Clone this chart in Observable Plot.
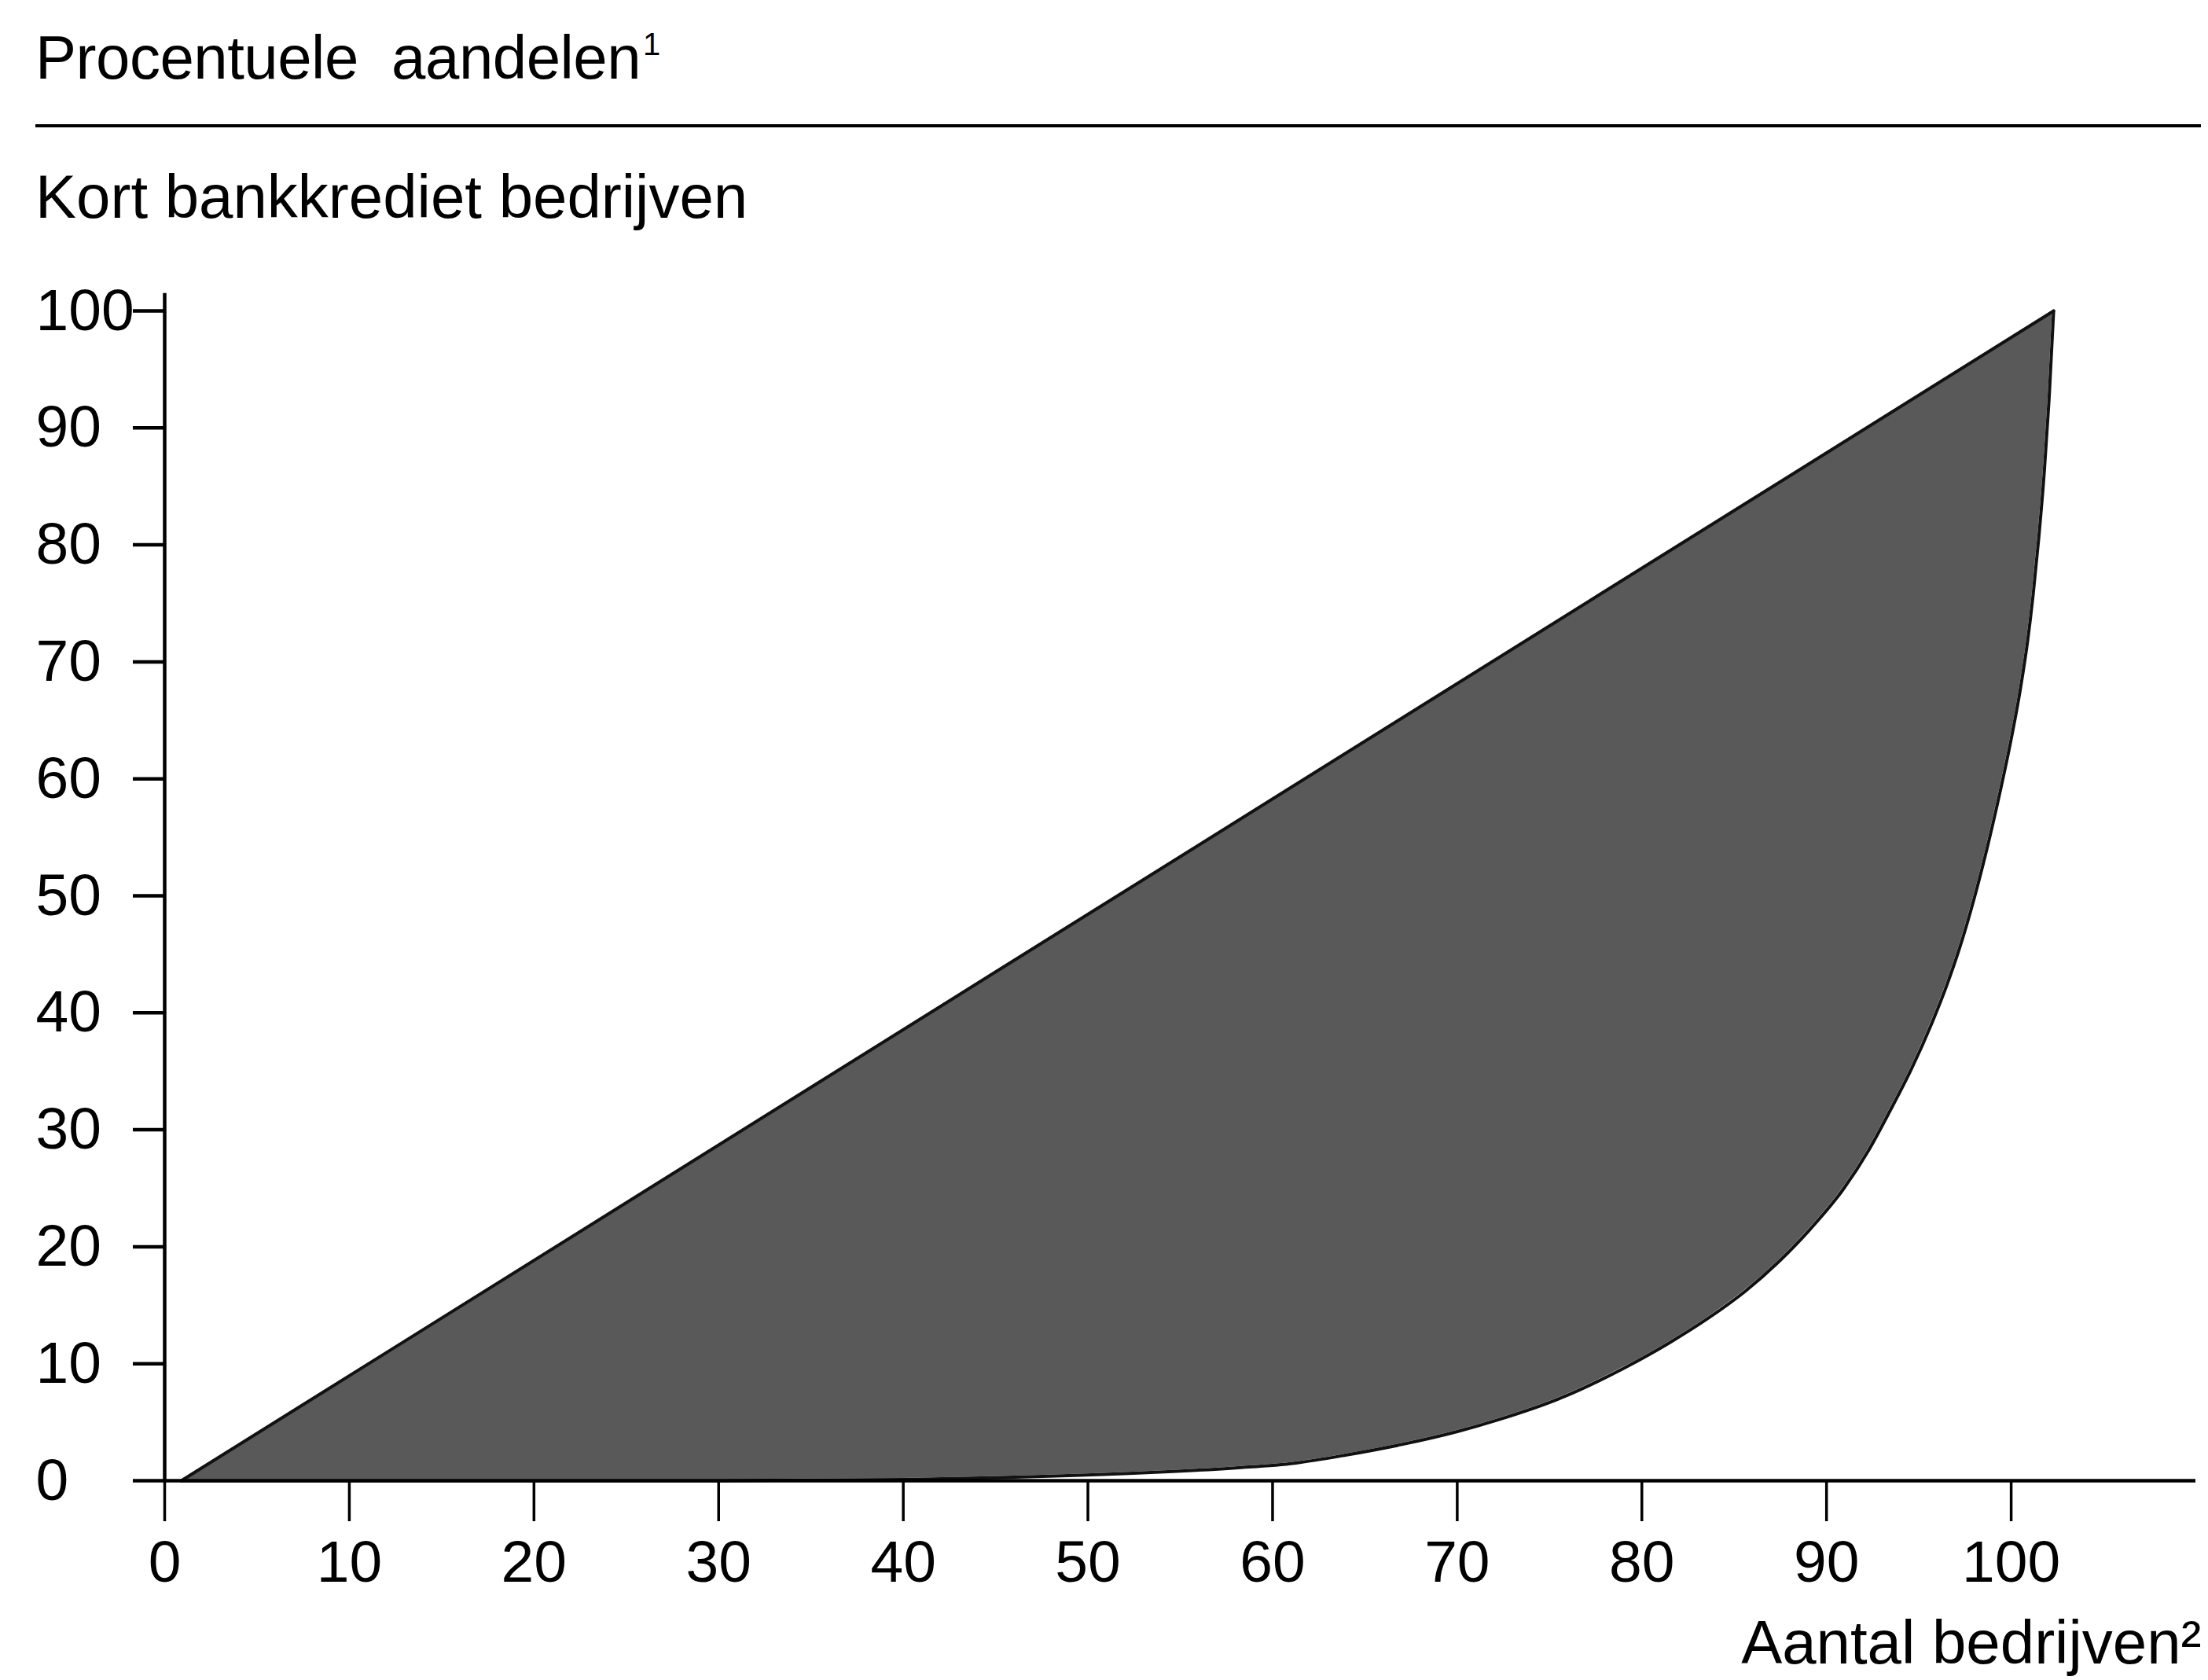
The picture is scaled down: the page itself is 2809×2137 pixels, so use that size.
<!DOCTYPE html>
<html>
<head>
<meta charset="utf-8">
<script src="https://cdn.jsdelivr.net/npm/d3@7"></script>
<script src="https://cdn.jsdelivr.net/npm/@observablehq/plot@0.6"></script>
<style>
  html, body { margin: 0; padding: 0; background: #fff; overflow: hidden; }
  body { width: 2809px; height: 2137px; font-family: "Liberation Sans", Arial, Helvetica, sans-serif; color: #000; }
  #header { position: relative; width: 2809px; height: 330px; }
  .t { position: absolute; left: 45px; font-size: 78px; line-height: 78px; white-space: pre; }
  #title { top: 34px; letter-spacing: -0.5px; }
  #subtitle { top: 211px; }
  #rule { position: absolute; left: 45px; width: 2755px; top: 158px; height: 4px; background: #000; }
  sup { font-size: 40px; vertical-align: 0; position: relative; top: -30px; margin-left: 3px; }
  #chart svg { display: block; }
  #chart g[aria-label="x-axis tick"] path { stroke-width: 3.5px; }
  #chart g[aria-label="y-axis tick"] path { stroke-width: 4.5px; }
</style>
</head>
<body>
<div id="header">
  <div id="title" class="t">Procentuele  aandelen<sup>1</sup></div>
  <div id="rule"></div>
  <div id="subtitle" class="t">Kort bankkrediet bedrijven</div>
</div>
<div id="chart"></div>
<script>
// Tick values
const xTicks = [0, 10, 20, 30, 40, 50, 60, 70, 80, 90, 100];
const yTicks = [0, 10, 20, 30, 40, 50, 60, 70, 80, 90, 100];

// Upper edge of shaded area (line of equal distribution)
const equalityX = [0.9, 102.3];
const equalityY = [0, 100];

// Lower edge (concentration curve), % of firms vs % of credit
const lorenzX = [0.9, 10, 20, 30, 40, 46.0, 53.4, 58.0, 61.2, 64.0, 67.0, 70.0, 72.2, 75.5, 79.0, 81.5, 83.6, 85.6, 87.4, 89.0, 90.9, 92.3, 93.4, 94.6, 95.7, 96.5, 97.2, 98.0, 98.7, 99.4, 100.0, 100.5, 100.9, 101.2, 101.5, 101.8, 102.05, 102.3];
const lorenzY = [0, 0, 0, 0, 0.1, 0.3, 0.7, 1.1, 1.5, 2.2, 3.1, 4.2, 5.2, 7.0, 9.6, 11.8, 13.9, 16.2, 18.7, 21.3, 24.9, 28.3, 31.5, 35.2, 39.1, 42.3, 45.5, 49.8, 54.1, 58.9, 63.4, 67.7, 71.9, 75.9, 80.7, 86.4, 92.4, 100];

const xLabel = "Aantal bedrijven²";

const equality = equalityX.map((x, i) => ({x, y: equalityY[i]}));
const lorenz = lorenzX.map((x, i) => ({x, y: lorenzY[i]}));

const font = '"Liberation Sans", Arial, Helvetica, sans-serif';

const chart = Plot.plot({
  width: 2809,
  height: 1807,
  marginLeft: 209,
  marginRight: 16,
  marginTop: 65,
  marginBottom: 254,
  style: {fontFamily: font, fontSize: "75px", color: "#000", background: "#fff", overflow: "visible"},
  x: {domain: [0, 110]},
  y: {domain: [0, 100]},
  marks: [
    // shaded region: area under the equality line minus area under the curve
    Plot.areaY(equality, {x: "x", y: "y", fill: "#595959"}),
    Plot.areaY(lorenz, {x: "x", y: "y", fill: "#fff", stroke: "#fff", strokeWidth: 3, curve: "monotone-x"}),
    Plot.line(equality, {x: "x", y: "y", stroke: "#111", strokeWidth: 4}),
    Plot.line(lorenz, {x: "x", y: "y", stroke: "#111", strokeWidth: 4, curve: "monotone-x"}),
    Plot.ruleY([0], {x1: 0, x2: 110, stroke: "#000", strokeWidth: 4.5}),
    Plot.ruleX([0], {y1: 0, y2: 101.5, stroke: "#000", strokeWidth: 4.5}),
    Plot.axisX({ticks: xTicks, tickSize: 52, tickPadding: 23, label: null, tickFormat: d => String(d)}),
    Plot.axisY({ticks: yTicks, tickSize: 40, tickPadding: 124, textAnchor: "start", label: null, tickFormat: d => String(d)}),
    Plot.text([xLabel], {frameAnchor: "bottom-right", text: d => d, textAnchor: "end", lineAnchor: "bottom", dx: 7, dy: 232, fontSize: 78})
  ]
});
document.getElementById("chart").appendChild(chart);
</script>
</body>
</html>
